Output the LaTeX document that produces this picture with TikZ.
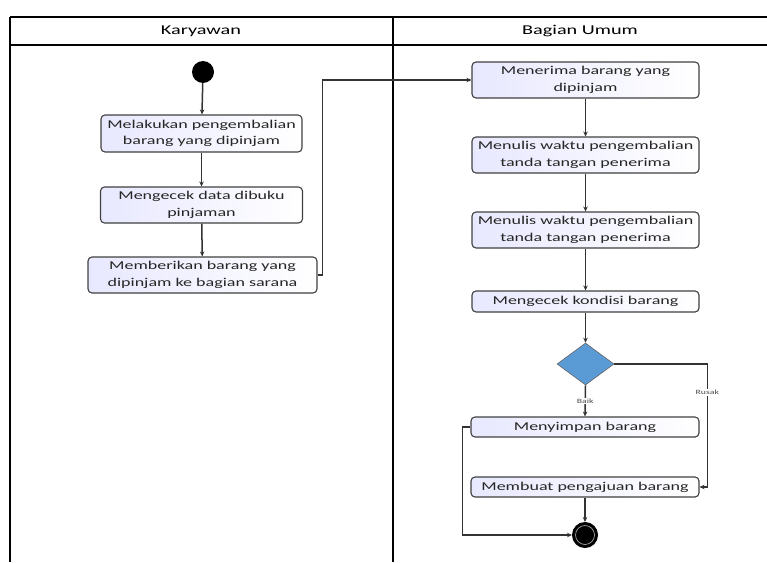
\documentclass[tikz,border=0pt]{standalone}
\usepackage{fontspec}
\setmainfont{Carlito}[FakeStretch=1.5]
\usetikzlibrary{shapes.geometric,arrows.meta,calc}
\tikzset{
  act/.style={draw=black!75, line width=1.1pt, rounded corners=4pt, left color=blue!9, right color=white,
    align=center, font=\fontsize{12}{16.5}\selectfont, inner sep=1pt, text=black!85},
  flow/.style={draw=black!80, line width=1.5pt, -{Stealth[length=5pt,width=4.5pt]}},
  lane/.style={draw=black, line width=1.2pt},
  lbl/.style={font=\fontsize{6.5}{7}\selectfont, fill=white, inner sep=1pt, text=black!70},
  hdr/.style={font=\fontsize{13.5}{15}\selectfont}
}
\begin{document}
\begin{tikzpicture}[x=1pt,y=-1pt]
\useasboundingbox (0,0) rectangle (767,562);
% swimlanes
\draw[lane] (10,17) -- (767,17);
\draw[lane] (10,45) -- (767,45);
\draw[lane] (10,17) -- (10,562);
\draw[draw=black, line width=2.6pt] (393,17) -- (393,562);
\node[hdr] (h1) at (201,31) {Karyawan};
\node[hdr] (h2) at (580,31) {Bagian Umum};
% left lane
\node[circle, fill=black, minimum size=22pt, inner sep=0pt] (start) at (203,72) {};
\node[act, minimum width=201pt, minimum height=37pt] (b1) at (201.5,133.5) {Melakukan pengembalian\\barang yang dipinjam};
\node[act, minimum width=202pt, minimum height=36pt] (b2) at (201.5,205) {Mengecek data dibuku\\pinjaman};
\node[act, minimum width=229pt, minimum height=36pt] (b3) at (202.5,275) {Memberikan barang yang\\dipinjam ke bagian sarana};
% right lane
\node[act, minimum width=227pt, minimum height=36pt] (b4) at (585.5,80) {Menerima barang yang\\dipinjam};
\node[act, minimum width=227pt, minimum height=36pt] (b5) at (585.5,155) {Menulis waktu pengembalian\\tanda tangan penerima};
\node[act, minimum width=227pt, minimum height=36pt] (b6) at (585.5,230) {Menulis waktu pengembalian\\tanda tangan penerima};
\node[act, minimum width=227pt, minimum height=21pt] (b7) at (585.5,301.5) {Mengecek kondisi barang};
\node[diamond, draw=black!60, line width=0.6pt, fill={rgb,255:red,91;green,155;blue,213}, minimum width=57pt, minimum height=42pt, inner sep=0pt] (dia) at (585.5,364) {};
\node[act, minimum width=228pt, minimum height=20pt] (b8) at (585,427) {Menyimpan barang};
\node[act, minimum width=228pt, minimum height=20pt] (b9) at (585,487) {Membuat pengajuan barang};
\node[circle, fill=black, draw=black, line width=1pt, minimum size=25pt, inner sep=0pt] (end) at (585,535) {};
\draw[white!65!black, line width=0.7pt] (end.center) circle (9.5);
% connectors
\draw[flow] (start) -- (b1);
\draw[flow] (b1) -- (b2);
\draw[flow] (b2) -- (b3);
\draw[flow] (b3.east) -- ++(5,0) |- (b4.west);
\draw[flow] (b4) -- (b5);
\draw[flow] (b5) -- (b6);
\draw[flow] (b6) -- (b7);
\draw[flow] (b7) -- (dia);
\draw[flow] (dia.south) -- node[lbl, pos=0.5] (baik) {Baik} (b8.north);
\draw[flow] (dia.east) -- ++(93,0) |- node[lbl, pos=0.115] (rusak) {Rusak} (b9.east);
\draw[flow] (b8.west) -- ++(-8,0) |- (end.west);
\draw[flow] (b9) -- (end);
\end{tikzpicture}
\end{document}
